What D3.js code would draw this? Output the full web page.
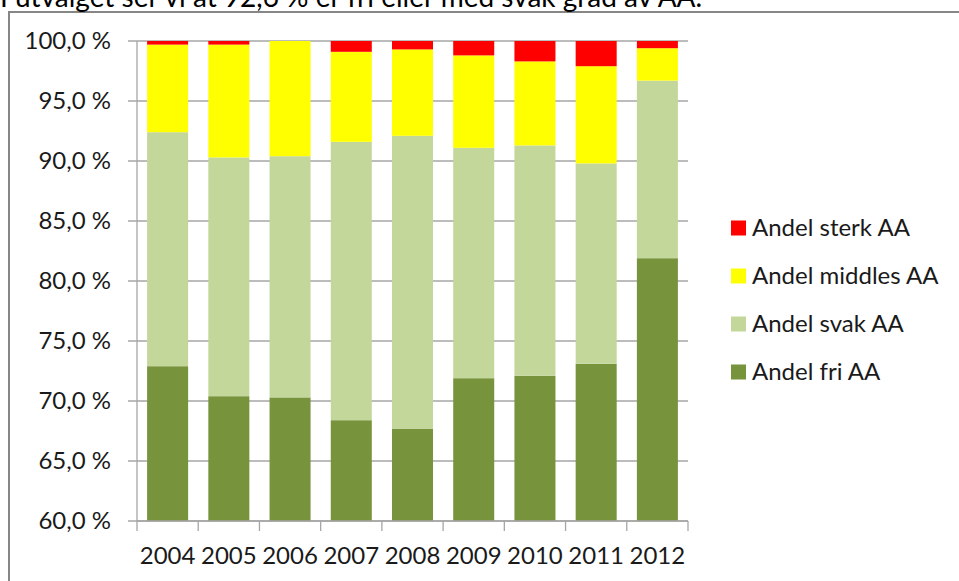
<!DOCTYPE html>
<html><head><meta charset="utf-8">
<script src="https://cdn.jsdelivr.net/npm/d3@7"></script>
<style>html,body{margin:0;padding:0;background:#fff;}svg{display:block;}</style>
</head><body>
<svg id="c" width="959" height="581"></svg>
<script>
const years = ["2004","2005","2006","2007","2008","2009","2010","2011","2012"];
const fri     = [72.9, 70.4, 70.3, 68.4, 67.7, 71.9, 72.1, 73.1, 81.9];
const svak    = [19.5, 19.9, 20.1, 23.2, 24.4, 19.2, 19.2, 16.7, 14.8];
const middels = [ 7.3,  9.4,  9.6,  7.5,  7.2,  7.7,  7.0,  8.1,  2.7];
const sterk   = [ 0.3,  0.3,  0.0,  0.9,  0.7,  1.2,  1.7,  2.1,  0.6];
const seriesNames = ["Andel fri AA","Andel svak AA","Andel middles AA","Andel sterk AA"];
const seriesColors = ["#77933C","#C4D79B","#FFFF00","#FF0000"];
const yTicks = [60,65,70,75,80,85,90,95,100];
const topText = "I utvalget ser vi at 92,6 % er fri eller med svak grad av AA.";

const font = "Lato, 'Open Sans', sans-serif";
const svg = d3.select("#c");
const L = 137, R = 688, T = 41, B = 521;

// frame
svg.append("line").attr("x1",9).attr("x2",9).attr("y1",11).attr("y2",581).attr("stroke","#868686").attr("stroke-width",2);
svg.append("line").attr("x1",8).attr("x2",959).attr("y1",12).attr("y2",12).attr("stroke","#868686").attr("stroke-width",2);

// top text (partly above the page edge, as in the reference)
svg.append("text").attr("x",0).attr("y",7).attr("font-family",font).attr("font-size",28).attr("fill","#000").text(topText);

const x = d3.scaleBand().domain(years).range([L,R]).paddingInner(0.33).paddingOuter(0.165);
const y = d3.scaleLinear().domain([60,100]).range([B,T]);

// gridlines
svg.append("g").selectAll("line").data(yTicks).join("line")
  .attr("x1",L-9).attr("x2",R).attr("y1",d=>y(d)).attr("y2",d=>y(d))
  .attr("stroke","#A6A6A6").attr("stroke-width",1.3);

// stacked data
const rows = years.map((yr,i)=>({year:yr, "Andel fri AA":fri[i], "Andel svak AA":svak[i], "Andel middles AA":middels[i], "Andel sterk AA":sterk[i]}));
const stack = d3.stack().keys(seriesNames)(rows);
svg.append("g").selectAll("g").data(stack).join("g")
  .attr("fill",(d,i)=>seriesColors[i])
  .selectAll("rect").data(d=>d).join("rect")
  .attr("x",d=>x(d.data.year)).attr("width",x.bandwidth())
  .attr("y",d=>y(Math.min(100,d[1]))).attr("height",d=>Math.max(0,y(Math.max(60,d[0]))-y(Math.min(100,d[1]))));

// axes lines
svg.append("line").attr("x1",L).attr("x2",L).attr("y1",T).attr("y2",B).attr("stroke","#A6A6A6").attr("stroke-width",1.3);
svg.append("line").attr("x1",L).attr("x2",R).attr("y1",B).attr("y2",B).attr("stroke","#A6A6A6").attr("stroke-width",1.3);
const step = x.step();
const xt = d3.range(years.length+1).map(i=>L+i*step);
svg.append("g").selectAll("line").data(xt).join("line")
  .attr("x1",d=>d).attr("x2",d=>d).attr("y1",B).attr("y2",B+10).attr("stroke","#A6A6A6").attr("stroke-width",1.3);

// y labels
svg.append("g").selectAll("text").data(yTicks).join("text")
  .attr("x",111).attr("y",d=>y(d)).attr("dy","0.35em").attr("text-anchor","end")
  .attr("font-family",font).attr("font-size",24).attr("fill","#1a1a1a")
  .text(d=>d3.format(".1f")(d).replace(".",",")+" %");

// x labels
svg.append("g").selectAll("text").data(years).join("text")
  .attr("x",d=>x(d)+x.bandwidth()/2).attr("y",564).attr("text-anchor","middle")
  .attr("font-family",font).attr("font-size",24).attr("fill","#1a1a1a").text(d=>d);

// legend
const legendOrder = [3,2,1,0];
const lg = svg.append("g").selectAll("g").data(legendOrder).join("g")
  .attr("transform",(d,i)=>`translate(731,${228+i*48})`);
lg.append("rect").attr("x",0).attr("y",-7.5).attr("width",15).attr("height",15).attr("fill",d=>seriesColors[d]);
lg.append("text").attr("x",21).attr("y",0).attr("dy","0.35em").attr("font-family",font).attr("font-size",24).attr("fill","#1a1a1a").text(d=>seriesNames[d]);
</script>
</body></html>
